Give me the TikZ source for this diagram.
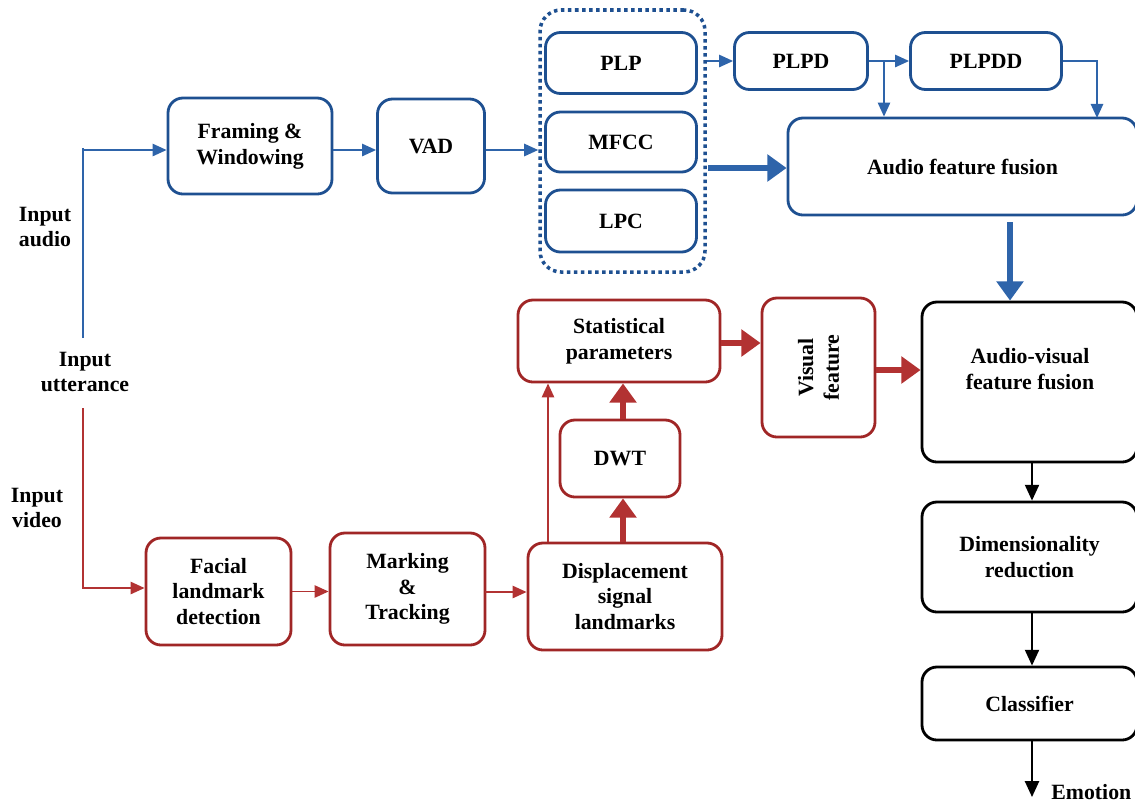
\documentclass[tikz,border=0pt]{standalone}
\usepackage{fontspec}
\setmainfont{Liberation Serif}
\usetikzlibrary{arrows.meta,calc}
\definecolor{bbord}{RGB}{30,80,145}
\definecolor{barr}{RGB}{46,100,170}
\definecolor{rbord}{RGB}{160,38,38}
\definecolor{rarr}{RGB}{178,50,50}
\def\u{0.02cm}
\tikzset{
  base/.style={rounded corners=8.5pt, line width=1.6pt, align=center, font=\fontsize{12.4}{14.7}\selectfont\bfseries, inner sep=0pt},
  bbox/.style={base, draw=bbord},
  rbox/.style={base, draw=rbord},
  kbox/.style={base, draw=black},
  lbl/.style={align=center, font=\fontsize{12.4}{14.7}\selectfont\bfseries, inner sep=0pt},
  barrow/.style={draw=barr, line width=1.1pt, -{Triangle[length=8pt,width=7pt]}},
  bthick/.style={draw=barr, line width=3.4pt, -{Triangle[length=11pt,width=15pt]}},
  rarrow/.style={draw=rarr, line width=1.1pt, -{Triangle[length=8pt,width=7pt]}},
  rthick/.style={draw=rarr, line width=3.4pt, -{Triangle[length=11pt,width=15pt]}},
  karrow/.style={draw=black, line width=1.1pt, -{Triangle[length=9pt,width=8pt]}},
}
\begin{document}
\begin{tikzpicture}[x=0.02cm, y=-0.02cm]
\useasboundingbox (0,0) rectangle (1135,802);

% audio branch
\node[bbox, minimum width={164*\u}, minimum height={96*\u}] (fw) at (250,146) {Framing \&\\Windowing};
\node[bbox, minimum width={107*\u}, minimum height={94*\u}] (vad) at (431,146) {VAD};
\node[bbox, minimum width={151*\u}, minimum height={61*\u}] (plp) at (621,63) {PLP};
\node[bbox, minimum width={151*\u}, minimum height={60*\u}] (mfcc) at (621,142) {MFCC};
\node[bbox, minimum width={151*\u}, minimum height={62*\u}] (lpc) at (621,221) {LPC};
\node[draw=bbord, line width=2pt, dotted, rounded corners=12pt, minimum width={165*\u}, minimum height={262*\u}, inner sep=0pt] (grp) at (622.5,141) {};
\node[bbox, minimum width={133*\u}, minimum height={57*\u}] (plpd) at (801,61) {PLPD};
\node[bbox, minimum width={151*\u}, minimum height={57*\u}] (plpdd) at (986,61) {PLPDD};
\node[bbox, minimum width={349*\u}, minimum height={97*\u}] (aff) at (962.5,166.5) {Audio feature fusion};

% fusion / classification
\node[kbox, minimum width={215*\u}, minimum height={160*\u}] (avff) at (1029.5,382) {};
\node[lbl] (avfft) at (1030,369) {Audio-visual\\feature fusion};
\node[kbox, minimum width={215*\u}, minimum height={110*\u}] (dr) at (1029.5,557) {Dimensionality\\reduction};
\node[kbox, minimum width={215*\u}, minimum height={73*\u}] (cls) at (1029.5,703.5) {Classifier};
\node[lbl, anchor=west] (emot) at (1051,792) {Emotion};

% visual branch
\node[rbox, minimum width={202*\u}, minimum height={82*\u}] (stat) at (619,341) {Statistical\\parameters};
\node[rbox, minimum width={113*\u}, minimum height={139*\u}] (vis) at (818.5,367.5) {};
\node[lbl, rotate=90] (vist) at (818.5,367.5) {Visual\\feature};
\node[rbox, minimum width={120*\u}, minimum height={77*\u}] (dwt) at (620,458.5) {DWT};
\node[rbox, minimum width={194*\u}, minimum height={107*\u}] (disp) at (625,596.5) {Displacement\\signal\\landmarks};
\node[rbox, minimum width={145*\u}, minimum height={107*\u}] (fac) at (218.5,591.5) {Facial\\landmark\\detection};
\node[rbox, minimum width={155*\u}, minimum height={112*\u}] (mark) at (407.5,589) {Marking\\\&\\Tracking};

% input labels
\node[lbl] (inaud) at (45,227) {Input\\audio};
\node[lbl] (inutt) at (85,372) {Input\\utterance};
\node[lbl] (invid) at (37,508) {Input\\video};

% input lines
\coordinate (atop) at (83,148);
\coordinate (aarr) at (83,150);
\coordinate (abot) at (83,338);
\draw[draw=barr, line width=1.6pt] (abot) -- (atop);
\draw[barrow] (aarr) -- (aarr -| fw.west);
\coordinate (vtop) at (83,408);
\coordinate (vbot) at (83,588);
\draw[rarrow] (vtop) -- (vbot) -- (vbot -| fac.west);

% audio connectors
\draw[barrow] (fw.east |- aarr) -- (vad.west |- aarr);
\draw[barrow] (vad.east |- aarr) -- (grp.west |- aarr);
\draw[barrow] (grp.east |- plpd.west) -- (plpd.west);
\draw[barrow] (plpd.east) -- (plpdd.west);
\coordinate (br) at (884,61);
\draw[barrow] (br) -- (br |- aff.north);
\coordinate (pdin) at (1097,118);
\draw[barrow] (plpdd.east) -| (pdin);
\coordinate (mf) at (708,168);
\draw[bthick] (mf) -- (mf -| aff.west);
\coordinate (afd) at (1010,222);
\draw[bthick] (afd) -- (afd |- avff.north);

% visual connectors
\draw[rarrow] (fac.east) -- (fac.east -| mark.west);
\coordinate (mk) at (485,592);
\draw[rarrow] (mk) -- (mk -| disp.west);
\coordinate (th) at (548,0);
\draw[rarrow] (th |- disp.north) -- (th |- stat.south);
\coordinate (dw) at (623,0);
\draw[rthick] (dw |- disp.north) -- (dw |- dwt.south);
\draw[rthick] (dw |- dwt.north) -- (dw |- stat.south);
\coordinate (sv) at (0,343);
\draw[rthick] (sv -| stat.east) -- (sv -| vis.west);
\coordinate (va) at (0,370);
\draw[rthick] (va -| vis.east) -- (va -| avff.west);

% output connectors
\coordinate (ov) at (1032,0);
\draw[karrow] (ov |- avff.south) -- (ov |- dr.north);
\draw[karrow] (ov |- dr.south) -- (ov |- cls.north);
\coordinate (emo) at (1032,797);
\draw[karrow] (ov |- cls.south) -- (emo);
\end{tikzpicture}
\end{document}
